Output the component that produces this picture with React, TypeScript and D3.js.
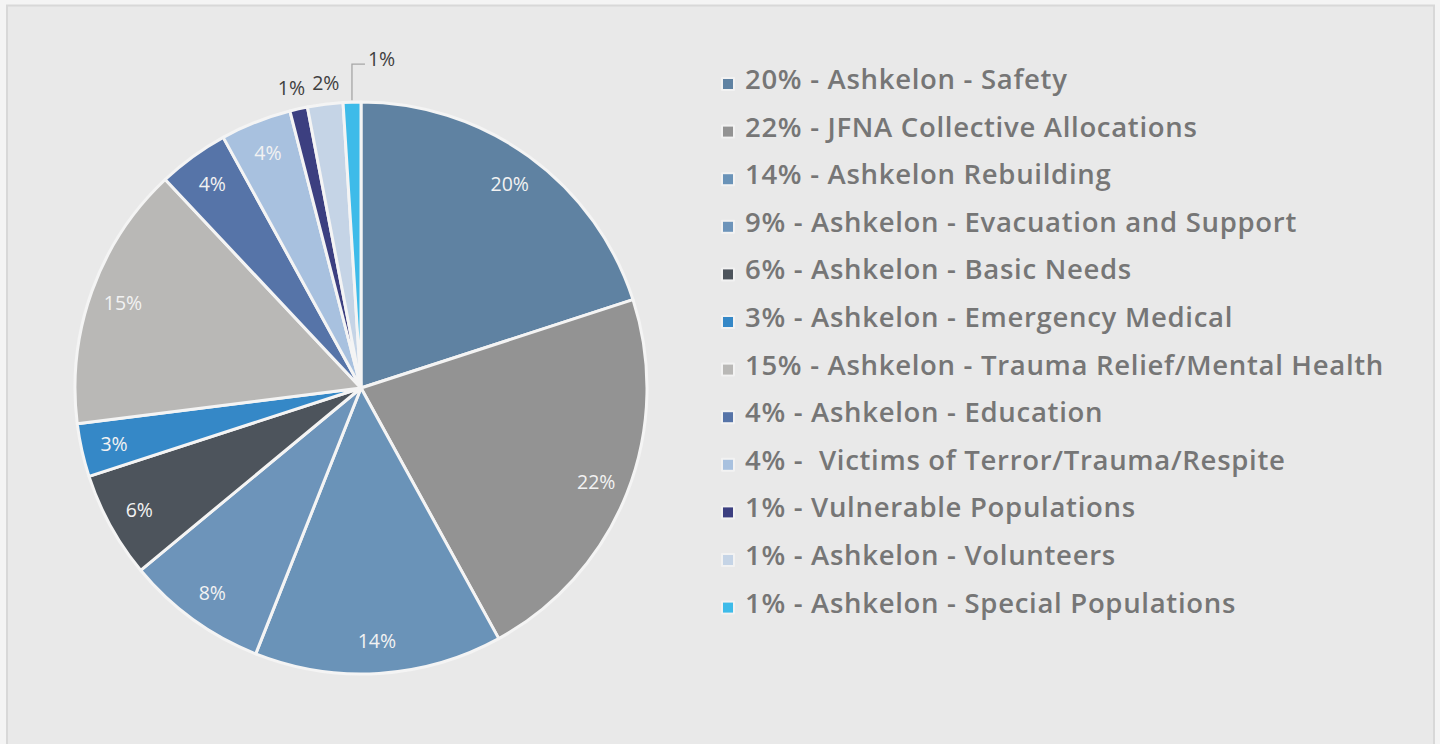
import React from "react";
import * as d3 from "d3";

const categories = [
  "Ashkelon - Safety",
  "JFNA Collective Allocations",
  "Ashkelon Rebuilding",
  "Ashkelon - Evacuation and Support",
  "Ashkelon - Basic Needs",
  "Ashkelon - Emergency Medical",
  "Ashkelon - Trauma Relief/Mental Health",
  "Ashkelon - Education",
  "Victims of Terror/Trauma/Respite",
  "Vulnerable Populations",
  "Ashkelon - Volunteers",
  "Ashkelon - Special Populations",
];
const values = [20, 22, 14, 8, 6, 3, 15, 4, 4, 1, 2, 1];
const sliceLabels = ["20%", "22%", "14%", "8%", "6%", "3%", "15%", "4%", "4%", "1%", "2%", "1%"];
const legendLabels = [
  "20% - Ashkelon - Safety",
  "22% - JFNA Collective Allocations",
  "14% - Ashkelon Rebuilding",
  "9% - Ashkelon - Evacuation and Support",
  "6% - Ashkelon - Basic Needs",
  "3% - Ashkelon - Emergency Medical",
  "15% - Ashkelon - Trauma Relief/Mental Health",
  "4% - Ashkelon - Education",
  "4% -  Victims of Terror/Trauma/Respite",
  "1% - Vulnerable Populations",
  "1% - Ashkelon - Volunteers",
  "1% - Ashkelon - Special Populations",
];
const colors = [
  "#5f82a2", "#939393", "#6a93b8", "#6d94ba", "#4d545c", "#3588c7",
  "#b9b8b6", "#5674a8", "#a8c1df", "#3c3f80", "#c5d4e6", "#3ebbe9",
];

const W = 1440, H = 744;
const cx = 361, cy = 388, R = 286;

export default function App() {
  const pie = d3.pie<number>().sort(null).value((d) => d);
  const arcs = pie(values);
  const arc = d3.arc<d3.PieArcDatum<number>>().innerRadius(0).outerRadius(R);
  const labelArc = d3.arc<d3.PieArcDatum<number>>().innerRadius(253).outerRadius(253);

  const outside = [false, false, false, false, false, false, false, false, false, true, true, true];
  // outside label nudges (layout only)
  const outsideOffsets: Record<number, [number, number]> = {
    9: [-3, -3],
    10: [3, -3],
  };

  return (
    <svg width={W} height={H} style={{ position: "absolute", left: 0, top: 0, display: "block" }}>
      <rect x={0} y={0} width={W} height={H} fill="#f4f4f4" />
      <rect x={7} y={5.5} width={1427} height={760} fill="#e9e9e9" stroke="#d8d8d8" strokeWidth={2} />
      <g transform={`translate(${cx},${cy})`}>
        {arcs.map((a, i) => (
          <path key={i} d={arc(a) || ""} fill={colors[i]} stroke="#f4f4f4" strokeWidth={3} strokeLinejoin="round" />
        ))}
        {arcs.map((a, i) => {
          if (outside[i]) return null;
          const [x, y] = labelArc.centroid(a);
          return (
            <text key={i} x={x} y={y} textAnchor="middle" dominantBaseline="central"
              fontFamily="'Open Sans', sans-serif" fontSize={19.5} fill="#f2f2f2">
              {sliceLabels[i]}
            </text>
          );
        })}
        {arcs.map((a, i) => {
          if (!outside[i] || i === 11) return null;
          const mid = (a.startAngle + a.endAngle) / 2;
          const rr = 305;
          const off = outsideOffsets[i] || [0, 0];
          const x = rr * Math.sin(mid) + off[0];
          const y = -rr * Math.cos(mid) + off[1];
          return (
            <text key={i} x={x} y={y} textAnchor="middle" dominantBaseline="central"
              fontFamily="'Open Sans', sans-serif" fontSize={19.5} fill="#404040">
              {sliceLabels[i]}
            </text>
          );
        })}
        {(() => {
          const a = arcs[11];
          const mid = (a.startAngle + a.endAngle) / 2;
          const x0 = (R + 2) * Math.sin(mid);
          const y0 = -(R + 2) * Math.cos(mid);
          const yTop = y0 - 36;
          return (
            <g>
              <polyline points={`${x0},${y0} ${x0},${yTop} ${x0 + 13},${yTop}`} fill="none" stroke="#a6a6a6" strokeWidth={1.3} />
              <text x={x0 + 16} y={yTop - 5.5} dominantBaseline="central"
                fontFamily="'Open Sans', sans-serif" fontSize={19.5} fill="#404040">
                {sliceLabels[11]}
              </text>
            </g>
          );
        })()}
      </g>
      <g>
        {legendLabels.map((t, i) => {
          const y = 89 + i * 47.6;
          return (
            <g key={i}>
              <rect x={721} y={y - 12} width={14} height={14} fill="#f2f2f2" rx={1} />
              <rect x={723} y={y - 10} width={10} height={10} fill={colors[i]} />
              <text x={745} y={y} fontFamily="'Open Sans', sans-serif" fontWeight={600} fontSize={27.5}
                letterSpacing={0.7} fill="#767676" style={{ whiteSpace: "pre" }}>
                {t}
              </text>
            </g>
          );
        })}
      </g>
    </svg>
  );
}
